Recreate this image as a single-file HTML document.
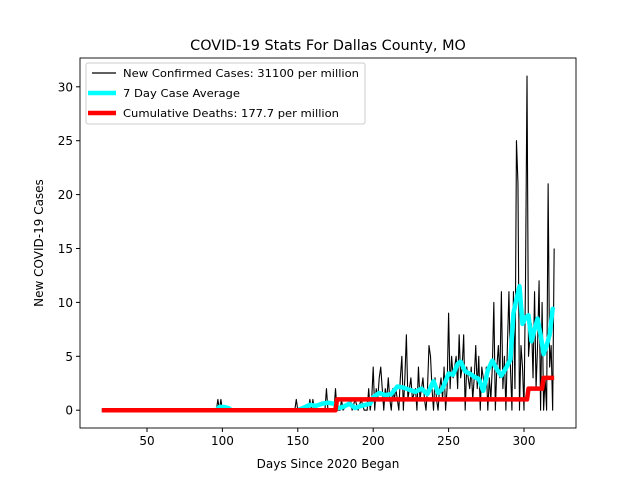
<!DOCTYPE html>
<html><head><meta charset="utf-8"><style>
body{margin:0;background:#fff}
text{font-family:"DejaVu Sans","Liberation Sans",sans-serif}
</style></head><body>
<svg id="chart" width="640" height="480" viewBox="0 0 640 480" xmlns="http://www.w3.org/2000/svg">
<rect width="640" height="480" fill="#fff"/>
<text x="328" y="50" font-size="14.4" text-anchor="middle">COVID-19 Stats For Dallas County, MO</text>
<g id="plot"></g>
<g id="axes"></g>
<text x="328" y="468" font-size="12" text-anchor="middle">Days Since 2020 Began</text>
<text transform="translate(43,243) rotate(-90)" font-size="12" text-anchor="middle">New COVID-19 Cases</text>
<g>
<rect x="86" y="63" width="279" height="61" rx="2" fill="#fff" stroke="#ccc" stroke-width="1"/>
<line x1="92" y1="73" x2="116" y2="73" stroke="#000" stroke-width="1.2"/>
<text x="123" y="77" font-size="10.5" textLength="236" lengthAdjust="spacingAndGlyphs">New Confirmed Cases: 31100 per million</text>
<line x1="88" y1="93" x2="116" y2="93" stroke="#00ffff" stroke-width="4.5"/>
<text x="123" y="97" font-size="10.5" textLength="117" lengthAdjust="spacingAndGlyphs">7 Day Case Average</text>
<line x1="88" y1="113" x2="116" y2="113" stroke="#ff0000" stroke-width="4.5"/>
<text x="123" y="117" font-size="10.5" textLength="216" lengthAdjust="spacingAndGlyphs">Cumulative Deaths: 177.7 per million</text>
</g>
</svg>
<script>
const caseDays=[20,96,97,98,99,100,148,149,150,151,157,158,159,160,161,162,168,169,170,171,174,175,176,178,179,180,185,186,188,190,192,194,196,197,198,199,200,201,202,203,204,205,206,207,208,209,210,211,212,213,214,215,216,217,218,219,220,221,222,223,224,225,226,228,229,230,231,232,233,234,235,236,237,238,239,240,241,242,243,244,245,246,247,248,249,250,251,252,253,254,255,256,257,258,259,260,261,262,263,264,265,266,267,268,269,270,271,272,273,274,275,276,277,278,279,280,281,282,283,284,285,286,287,288,289,290,291,292,293,294,295,296,297,298,299,300,301,302,303,304,305,306,307,308,309,310,311,312,313,314,315,316,317,318,319,320];
const caseVals=[0,0,1,0,1,0,0,1,0,0,0,1,0,1,0,0,0,2,0,0,0,2,0,0,1,0,1,0,1,0,1,0,0,2,0,1,4,0,2,1,3,4,2,0,2,1,3,1,0,2,1,2,1,0,3,5,0,3,7,1,2,3,1,2,0,4,1,2,3,1,0,2,6,5,2,0,3,1,0,2,3,1,4,0,2,9,2,5,3,4,5,2,7,3,4,7,0,4,3,2,4,1,3,6,2,5,0,4,3,2,4,0,3,1,4,10,0,4,6,3,11,2,5,0,6,11,4,0,11,2,25,21,0,6,4,0,12,31,5,7,8,3,11,2,6,12,0,10,0,3,0,21,4,6,0,15];
const avgDays=[20,96,98,101,104,106,150,155,158,162,166,170,174,177,180,184,188,192,195,198,200,204,208,212,216,220,224,228,232,236,240,243,246,250,253,256,258,261,264,267,270,273,276,279,282,285,288,291,293,295,297,299,301,303,305,307,309,311,313,315,317,319,320];
const avgVals=[0,0,0.3,0.3,0.2,0,0,0.3,0.5,0.4,0.6,0.7,0.6,0.2,0.3,0.6,0.2,0.4,0.5,0.6,1.2,1.6,1.4,1.5,2.2,2.1,1.9,1.7,2.0,1.5,2.7,1.6,2.0,3.4,3.3,4.3,4.5,3.6,3.4,3.1,2.9,1.8,3.7,4.6,3.8,3.2,3.9,4.7,9.0,10.3,11.5,8.0,8.6,8.8,6.4,7.5,8.5,7.0,5.2,6.0,7.0,9.4,9.3];
const deathDays=[20,175,176,302,303,312,313,320];
const deathVals=[0,0,1,1,2,2,3,3];
const xTicks=[50,100,150,200,250,300];
const yTicks=[0,5,10,15,20,25,30];
const L=80,R=576,T=58,B=428;
const sx=d=>71.6+d*1.508;
const sy=v=>410.2-v*10.78;
const NS='http://www.w3.org/2000/svg';
const plot=document.getElementById('plot'),axes=document.getElementById('axes');
function poly(xs,ys,color,w,name){
  let pts=[];
  for(let i=0;i<xs.length;i++){pts.push(sx(xs[i])+','+sy(ys[i]));}
  const p=document.createElementNS(NS,'polyline');
  p.setAttribute('points',pts.join(' '));
  p.setAttribute('fill','none');p.setAttribute('stroke',color);p.setAttribute('stroke-width',w);
  p.setAttribute('stroke-linejoin','round');
  
  
  plot.appendChild(p);
}
poly(caseDays,caseVals,'#000',1.1,'new-cases-line');
poly(avgDays,avgVals,'#00ffff',4.5,'seven-day-average-line');
poly(deathDays,deathVals,'#ff0000',4.5,'cumulative-deaths-line');
const frame=document.createElementNS(NS,'rect');
frame.setAttribute('x',L);frame.setAttribute('y',T);frame.setAttribute('width',R-L);frame.setAttribute('height',B-T);
frame.setAttribute('fill','none');frame.setAttribute('stroke','#000');frame.setAttribute('stroke-width','0.9');


axes.appendChild(frame);
xTicks.forEach(t=>{
  const l=document.createElementNS(NS,'line');
  l.setAttribute('x1',sx(t));l.setAttribute('x2',sx(t));l.setAttribute('y1',B);l.setAttribute('y2',B+4);l.setAttribute('stroke','#000');
  
  
  axes.appendChild(l);
  const tx=document.createElementNS(NS,'text');
  tx.setAttribute('x',sx(t));tx.setAttribute('y',B+17);tx.setAttribute('font-size','12');tx.setAttribute('text-anchor','middle');
  tx.textContent=t;
  
  
  axes.appendChild(tx);
});
yTicks.forEach(t=>{
  const l=document.createElementNS(NS,'line');
  l.setAttribute('x1',L-4);l.setAttribute('x2',L);l.setAttribute('y1',sy(t));l.setAttribute('y2',sy(t));l.setAttribute('stroke','#000');
  
  
  axes.appendChild(l);
  const tx=document.createElementNS(NS,'text');
  tx.setAttribute('x',L-7);tx.setAttribute('y',sy(t)+4.5);tx.setAttribute('font-size','12');tx.setAttribute('text-anchor','end');
  tx.textContent=t;
  
  
  axes.appendChild(tx);
});
</script>
</body></html>
